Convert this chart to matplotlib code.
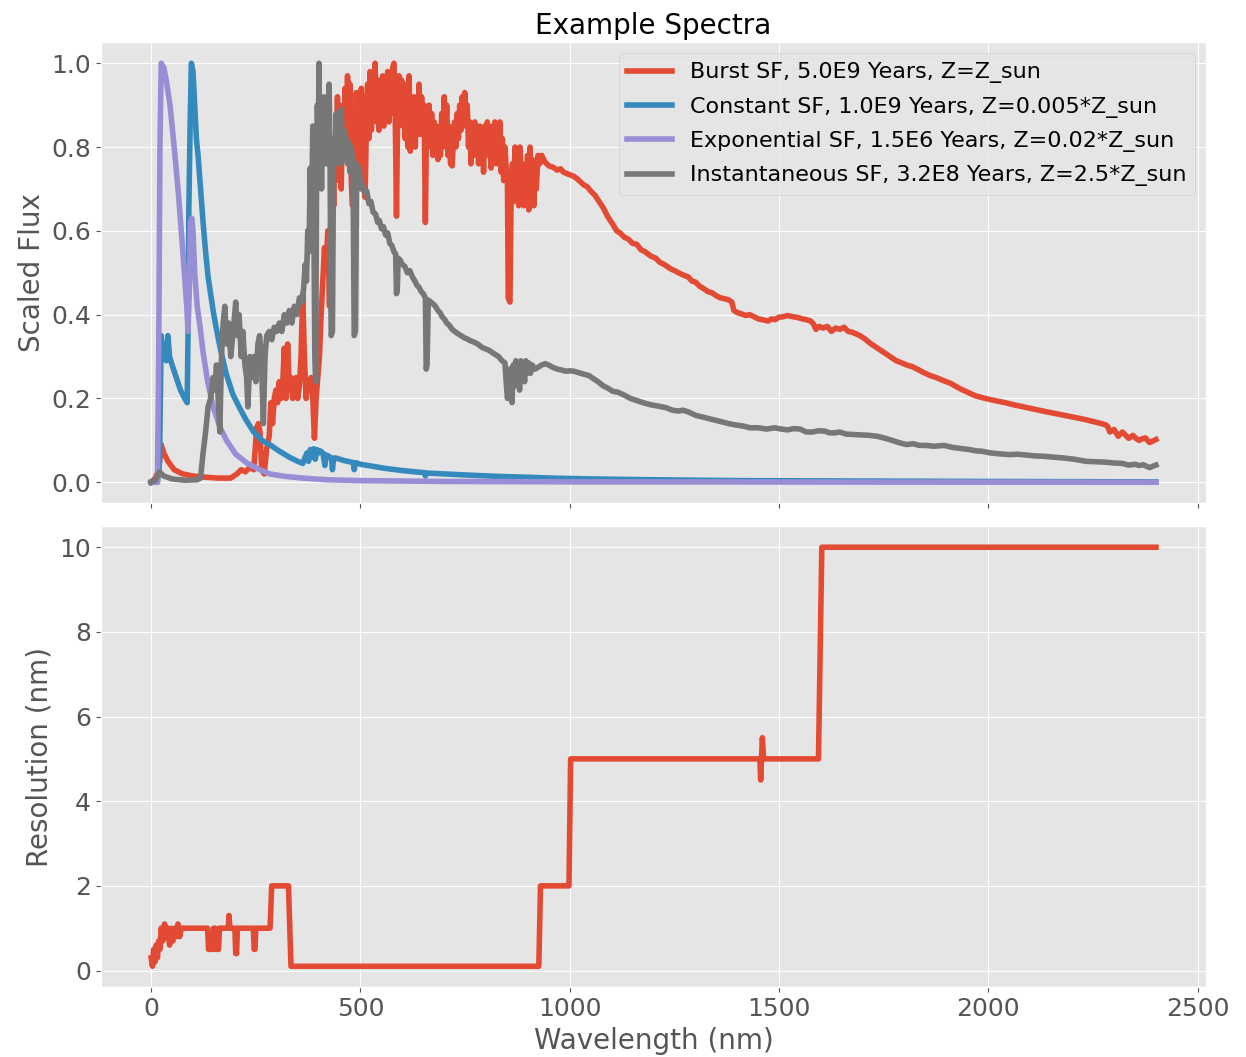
import matplotlib
matplotlib.use("Agg")
import matplotlib.pyplot as plt

plt.style.use("ggplot")

# --- spectra: (wavelength in nm, flux scaled to peak = 1) ---
burst = [(0, 0.0), (10, 0.01), (18, 0.03), (24, 0.09), (30, 0.07), (40, 0.05), (55, 0.03), (75, 0.02),
         (100, 0.015), (130, 0.012), (160, 0.01), (190, 0.01), (205, 0.02), (215, 0.03), (225, 0.025),
         (235, 0.035), (245, 0.03), (252, 0.13), (256, 0.14), (260, 0.12), (264, 0.03), (270, 0.02),
         (276, 0.08), (282, 0.11), (286, 0.19), (290, 0.14), (294, 0.2), (298, 0.22), (302, 0.19),
         (306, 0.24), (310, 0.2), (314, 0.23), (318, 0.32), (322, 0.2), (326, 0.33), (330, 0.22),
         (334, 0.25), (338, 0.2), (342, 0.22), (346, 0.25), (350, 0.2), (354, 0.23), (358, 0.3),
         (362, 0.45), (366, 0.3), (370, 0.2), (374, 0.24), (378, 0.22), (382, 0.25), (386, 0.2),
         (390, 0.105), (394, 0.2), (398, 0.25), (402, 0.3), (406, 0.4), (410, 0.48), (414, 0.56),
         (418, 0.52), (422, 0.6), (426, 0.42),
         (430, 0.70), (433, 0.78), (436, 0.66), (439, 0.8), (442, 0.72), (445, 0.92), (448, 0.76),
         (451, 0.88), (454, 0.7), (457, 0.9), (460, 0.78), (463, 0.94), (466, 0.8), (469, 0.97),
         (472, 0.84), (475, 0.95), (478, 0.72), (481, 0.66), (484, 0.86), (487, 0.76), (490, 0.93),
         (493, 0.8), (496, 0.9), (499, 0.74), (502, 0.94), (505, 0.8), (508, 0.92), (511, 0.68),
         (514, 0.85), (517, 0.95), (520, 0.82), (523, 0.98), (526, 0.84), (529, 0.96), (532, 0.88),
         (535, 1.0), (538, 0.86), (541, 0.96), (544, 0.84), (547, 0.94), (550, 0.88), (553, 0.97),
         (556, 0.85), (559, 0.95), (562, 0.87), (565, 0.98), (568, 0.86), (571, 0.96), (574, 0.88),
         (577, 0.99), (580, 1.0), (583, 0.88), (586, 0.635), (589, 0.9), (592, 0.97), (595, 0.86),
         (598, 0.96), (601, 0.85), (604, 0.95), (607, 0.82), (610, 0.93), (613, 0.8), (616, 0.97),
         (619, 0.79), (622, 0.9), (625, 0.82), (628, 0.92), (631, 0.8), (634, 0.91), (637, 0.84),
         (640, 0.95), (643, 0.83), (646, 0.92), (649, 0.84), (652, 0.9), (655, 0.62), (658, 0.88),
         (661, 0.82), (664, 0.9), (667, 0.8), (670, 0.88), (673, 0.78), (676, 0.86), (679, 0.8),
         (682, 0.85), (685, 0.77), (688, 0.84), (691, 0.78), (694, 0.88), (697, 0.8), (700, 0.92),
         (703, 0.82), (706, 0.9), (709, 0.78), (712, 0.85), (715, 0.76), (719, 0.755), (722, 0.82),
         (725, 0.86), (728, 0.8), (731, 0.88), (734, 0.82), (737, 0.9), (740, 0.84), (743, 0.92),
         (746, 0.85), (749, 0.93), (752, 0.86), (755, 0.9), (758, 0.8), (761, 0.86), (764, 0.76),
         (767, 0.84), (770, 0.78), (773, 0.86), (776, 0.8), (779, 0.84), (782, 0.76), (785, 0.85),
         (788, 0.78), (791, 0.83), (794, 0.74), (797, 0.85), (800, 0.79), (803, 0.86), (806, 0.78),
         (809, 0.84), (812, 0.75), (815, 0.85), (818, 0.77), (821, 0.86), (824, 0.76), (827, 0.84),
         (830, 0.78), (833, 0.86), (836, 0.74), (839, 0.82), (842, 0.72), (845, 0.8), (848, 0.75),
         (851, 0.72), (853, 0.44), (857, 0.43), (860, 0.7), (863, 0.76), (866, 0.67), (869, 0.8),
         (872, 0.7), (875, 0.78), (878, 0.66), (881, 0.8), (884, 0.7), (887, 0.76), (890, 0.66),
         (893, 0.75), (896, 0.68), (899, 0.78), (902, 0.65), (905, 0.8), (908, 0.68), (911, 0.77),
         (914, 0.66), (917, 0.76), (920, 0.7), (924, 0.78), (928, 0.76), (933, 0.78),
         (940, 0.765), (950, 0.755), (960, 0.752), (970, 0.745), (978, 0.748), (985, 0.74), (997, 0.735),
         (1010, 0.73), (1020, 0.722), (1033, 0.71), (1042, 0.705), (1050, 0.695), (1060, 0.685),
         (1070, 0.67), (1080, 0.655), (1090, 0.635), (1103, 0.615), (1112, 0.6), (1120, 0.595),
         (1130, 0.585), (1140, 0.58), (1150, 0.57), (1160, 0.568), (1170, 0.555), (1180, 0.55),
         (1193, 0.54), (1205, 0.535), (1215, 0.525), (1225, 0.52), (1240, 0.51), (1250, 0.505),
         (1260, 0.5), (1270, 0.495), (1283, 0.49), (1292, 0.48), (1300, 0.478), (1310, 0.468),
         (1320, 0.462), (1330, 0.455), (1340, 0.452), (1350, 0.445), (1360, 0.44), (1370, 0.438),
         (1380, 0.435), (1387, 0.43), (1392, 0.41), (1400, 0.405), (1410, 0.402), (1420, 0.398),
         (1430, 0.4), (1440, 0.395), (1450, 0.39), (1460, 0.388), (1474, 0.385), (1482, 0.39),
         (1490, 0.388), (1500, 0.394), (1510, 0.395), (1520, 0.398), (1533, 0.395), (1545, 0.393),
         (1555, 0.39), (1565, 0.388), (1575, 0.385), (1582, 0.378), (1588, 0.365), (1596, 0.372),
         (1605, 0.368), (1615, 0.372), (1625, 0.36), (1635, 0.368), (1645, 0.365), (1655, 0.37),
         (1665, 0.36), (1675, 0.358), (1693, 0.35), (1705, 0.342), (1720, 0.33), (1735, 0.32),
         (1750, 0.31), (1765, 0.3), (1780, 0.29), (1795, 0.284), (1804, 0.28), (1818, 0.276),
         (1830, 0.27), (1845, 0.262), (1860, 0.255), (1875, 0.25), (1894, 0.242), (1910, 0.236),
         (1920, 0.23), (1935, 0.222), (1950, 0.215), (1970, 0.206), (1993, 0.2), (2015, 0.195),
         (2040, 0.19), (2060, 0.185), (2083, 0.18), (2105, 0.175), (2130, 0.17), (2155, 0.165),
         (2180, 0.16), (2205, 0.155), (2230, 0.15), (2250, 0.145), (2270, 0.14), (2280, 0.137),
         (2285, 0.133), (2290, 0.12), (2295, 0.123), (2300, 0.126), (2305, 0.118), (2310, 0.11),
         (2315, 0.115), (2320, 0.12), (2328, 0.112), (2335, 0.105), (2340, 0.108), (2345, 0.112),
         (2352, 0.105), (2360, 0.1), (2368, 0.104), (2375, 0.106), (2380, 0.1), (2385, 0.095),
         (2392, 0.098), (2400, 0.102)]

constant = [(0, 0.0), (15, 0.0), (20, 0.05), (24, 0.35), (28, 0.3), (32, 0.33), (36, 0.29), (40, 0.35),
            (44, 0.3), (50, 0.28), (60, 0.25), (70, 0.22), (80, 0.2), (86, 0.19), (88, 0.35), (90, 0.65),
            (93, 0.85), (96, 1.0), (100, 0.98), (104, 0.9), (108, 0.82), (112, 0.78), (118, 0.7),
            (124, 0.62), (130, 0.55), (136, 0.49), (142, 0.45), (148, 0.41), (155, 0.37), (165, 0.32),
            (179, 0.26), (195, 0.21), (210, 0.18), (226, 0.15), (245, 0.12), (265, 0.1), (283, 0.09),
            (305, 0.075), (330, 0.06), (350, 0.05), (362, 0.045), (368, 0.06), (372, 0.07), (376, 0.05),
            (380, 0.078), (384, 0.06), (388, 0.08), (392, 0.055), (396, 0.078), (400, 0.07), (404, 0.075),
            (410, 0.07), (415, 0.04), (418, 0.065), (425, 0.062), (431, 0.055), (433, 0.03), (436, 0.058),
            (441, 0.058), (460, 0.052), (483, 0.047), (485, 0.03), (488, 0.047), (500, 0.043), (530, 0.038),
            (560, 0.033), (600, 0.028), (640, 0.024), (653, 0.023), (655, 0.015), (658, 0.022), (700, 0.02),
            (760, 0.017), (830, 0.014), (900, 0.012), (957, 0.01), (1050, 0.008), (1200, 0.006),
            (1400, 0.004), (1700, 0.003), (2000, 0.002), (2400, 0.001)]

exponential = [(0, 0.0), (15, 0.0), (18, 0.3), (21, 0.8), (24, 1.0), (30, 0.99), (36, 0.96), (45, 0.9),
               (55, 0.8), (65, 0.69), (75, 0.56), (85, 0.42), (88, 0.36), (91, 0.45), (94, 0.62), (97, 0.63),
               (100, 0.6), (104, 0.5), (110, 0.42), (117, 0.37), (124, 0.31), (135, 0.24), (148, 0.18),
               (165, 0.13), (180, 0.1), (202, 0.067), (230, 0.045), (260, 0.03), (283, 0.02), (320, 0.014),
               (362, 0.01), (420, 0.006), (500, 0.004), (700, 0.002), (1000, 0.001), (2400, 0.0)]

instantaneous = [(0, 0.0), (10, 0.005), (20, 0.025), (30, 0.015), (50, 0.008), (80, 0.005), (110, 0.006),
                 (118, 0.01), (124, 0.07), (130, 0.12), (136, 0.18), (142, 0.2), (148, 0.25), (152, 0.22),
                 (156, 0.28), (160, 0.2), (164, 0.12), (168, 0.3), (172, 0.38), (176, 0.42), (180, 0.33),
                 (185, 0.38), (190, 0.3), (196, 0.36), (202, 0.43), (206, 0.35), (210, 0.4), (215, 0.3),
                 (219, 0.36), (224, 0.28), (228, 0.25), (231, 0.18), (236, 0.3), (241, 0.25), (246, 0.3),
                 (250, 0.24), (255, 0.33), (259, 0.35), (263, 0.3), (268, 0.14), (272, 0.3), (276, 0.35),
                 (282, 0.36), (288, 0.34), (294, 0.37), (300, 0.36), (306, 0.38), (312, 0.36), (318, 0.4),
                 (324, 0.38), (330, 0.41), (336, 0.38), (342, 0.42), (348, 0.4), (354, 0.44), (360, 0.43),
                 (364, 0.46), (368, 0.52), (371, 0.48), (374, 0.6), (377, 0.55), (380, 0.75), (383, 0.6),
                 (386, 0.85), (388, 0.7), (391, 0.3), (393, 0.24), (395, 0.7), (397, 0.9), (399, 0.8),
                 (401, 1.0), (403, 0.75), (405, 0.9), (407, 0.7), (409, 0.88), (411, 0.76), (413, 0.92),
                 (415, 0.78), (417, 0.9), (419, 0.76), (421, 0.86), (423, 0.78), (425, 0.95), (427, 0.8),
                 (430, 0.35), (433, 0.36), (436, 0.82), (439, 0.76), (442, 0.88), (445, 0.78), (448, 0.84),
                 (451, 0.76), (454, 0.89), (457, 0.78), (460, 0.84), (463, 0.77), (466, 0.82), (469, 0.76),
                 (472, 0.81), (475, 0.74), (478, 0.8), (482, 0.76), (485, 0.35), (488, 0.36), (491, 0.76),
                 (494, 0.72), (497, 0.75), (501, 0.7), (505, 0.71), (510, 0.69), (515, 0.695), (520, 0.665),
                 (525, 0.67), (530, 0.645), (536, 0.64), (541, 0.62), (545, 0.625), (550, 0.605), (555, 0.61),
                 (560, 0.59), (565, 0.595), (570, 0.57), (575, 0.565), (580, 0.55), (584, 0.545), (586, 0.45),
                 (588, 0.46), (590, 0.535), (595, 0.53), (600, 0.52), (606, 0.515), (612, 0.5), (618, 0.505),
                 (624, 0.49), (630, 0.48), (635, 0.47), (640, 0.465), (645, 0.455), (650, 0.45), (655, 0.44),
                 (657, 0.27), (659, 0.28), (662, 0.435), (668, 0.43), (674, 0.425), (679, 0.42), (685, 0.41),
                 (690, 0.405), (695, 0.395), (700, 0.39), (706, 0.38), (712, 0.375), (719, 0.365), (725, 0.36),
                 (732, 0.355), (740, 0.35), (748, 0.345), (755, 0.342), (762, 0.338), (770, 0.335), (780, 0.33),
                 (790, 0.322), (800, 0.318), (807, 0.315), (814, 0.31), (822, 0.305), (830, 0.3), (838, 0.29),
                 (845, 0.285), (848, 0.24), (851, 0.2), (853, 0.21), (856, 0.27), (859, 0.22), (862, 0.19),
                 (865, 0.28), (868, 0.23), (871, 0.29), (874, 0.24), (877, 0.28), (880, 0.22), (883, 0.29),
                 (886, 0.25), (889, 0.28), (892, 0.24), (895, 0.29), (898, 0.26), (902, 0.285), (906, 0.26),
                 (910, 0.28), (917, 0.27), (925, 0.275), (933, 0.28), (941, 0.283), (949, 0.28), (958, 0.275),
                 (970, 0.27), (980, 0.268), (990, 0.265), (1000, 0.266), (1010, 0.265), (1020, 0.262),
                 (1033, 0.258), (1045, 0.255), (1060, 0.245), (1070, 0.238), (1080, 0.23), (1090, 0.225),
                 (1103, 0.217), (1115, 0.215), (1130, 0.208), (1145, 0.2), (1160, 0.195), (1175, 0.19),
                 (1193, 0.185), (1210, 0.182), (1230, 0.178), (1245, 0.172), (1260, 0.17), (1270, 0.172),
                 (1283, 0.168), (1300, 0.16), (1320, 0.155), (1340, 0.15), (1360, 0.145), (1380, 0.14),
                 (1395, 0.137), (1415, 0.134), (1430, 0.13), (1450, 0.13), (1470, 0.127), (1490, 0.13),
                 (1505, 0.127), (1520, 0.125), (1535, 0.128), (1550, 0.127), (1565, 0.12), (1580, 0.12),
                 (1595, 0.123), (1610, 0.122), (1620, 0.118), (1633, 0.118), (1645, 0.12), (1660, 0.115),
                 (1680, 0.114), (1700, 0.113), (1715, 0.112), (1733, 0.11), (1750, 0.106), (1770, 0.1),
                 (1785, 0.095), (1804, 0.09), (1820, 0.092), (1835, 0.088), (1850, 0.088), (1870, 0.086),
                 (1894, 0.088), (1915, 0.083), (1940, 0.08), (1955, 0.078), (1970, 0.075), (1985, 0.074),
                 (2005, 0.07), (2025, 0.068), (2050, 0.066), (2070, 0.067), (2090, 0.065), (2110, 0.063),
                 (2133, 0.062), (2155, 0.06), (2180, 0.058), (2205, 0.055), (2233, 0.05), (2255, 0.049),
                 (2280, 0.048), (2300, 0.046), (2320, 0.045), (2335, 0.041), (2350, 0.043), (2360, 0.04),
                 (2370, 0.042), (2378, 0.038), (2385, 0.035), (2392, 0.038), (2400, 0.041)]

labels = ["Burst SF, 5.0E9 Years, Z=Z_sun",
          "Constant SF, 1.0E9 Years, Z=0.005*Z_sun",
          "Exponential SF, 1.5E6 Years, Z=0.02*Z_sun",
          "Instantaneous SF, 3.2E8 Years, Z=2.5*Z_sun"]

# --- instrumental resolution (nm) ---
res_wl = [0, 3, 6, 9, 12, 15, 18, 21, 24, 28, 32, 36, 40, 44, 48, 52, 56, 60, 64, 68, 72, 76,
          135, 137, 147, 149, 153, 155, 161, 163, 184, 186, 188, 200, 202, 204, 206, 244, 246, 248, 250,
          284, 288, 328, 334, 926, 930, 998, 1002, 1454, 1456, 1460, 1463, 1466, 1594, 1602, 2400]
res_nm = [0.3, 0.1, 0.5, 0.2, 0.6, 0.3, 0.7, 0.5, 1.0, 0.7, 1.1, 0.8, 1.0, 0.6, 1.0, 0.7, 1.0, 0.8, 1.1, 0.8, 1.0, 1.0,
          1.0, 0.5, 0.5, 1.0, 1.0, 0.5, 0.5, 1.0, 1.0, 1.3, 1.0, 1.0, 0.4, 0.4, 1.0, 1.0, 0.5, 0.5, 1.0,
          1.0, 2.0, 2.0, 0.1, 0.1, 2.0, 2.0, 5.0, 5.0, 4.5, 5.5, 5.0, 5.0, 5.0, 10.0, 10.0]

fig, (ax1, ax2) = plt.subplots(2, 1, sharex=True, figsize=(12.46, 10.57), dpi=100)
fig.subplots_adjust(left=0.081, right=0.968, top=0.960, bottom=0.066, hspace=0.05)

lw = 4
for spec, lab in zip([burst, constant, exponential, instantaneous], labels):
    wl, flux = zip(*spec)
    ax1.plot(wl, flux, lw=lw, label=lab)
ax1.set_ylabel("Scaled Flux", fontsize=20)
ax1.set_title("Example Spectra", fontsize=20)
ax1.legend(loc="upper right", fontsize=16, labelspacing=0.6)
ax1.tick_params(labelsize=18)

ax2.plot(res_wl, res_nm, lw=lw)
ax2.set_ylabel("Resolution (nm)", fontsize=20)
ax2.set_xlabel("Wavelength (nm)", fontsize=20)
ax2.tick_params(labelsize=18)

fig.savefig("out.png", dpi=100)
